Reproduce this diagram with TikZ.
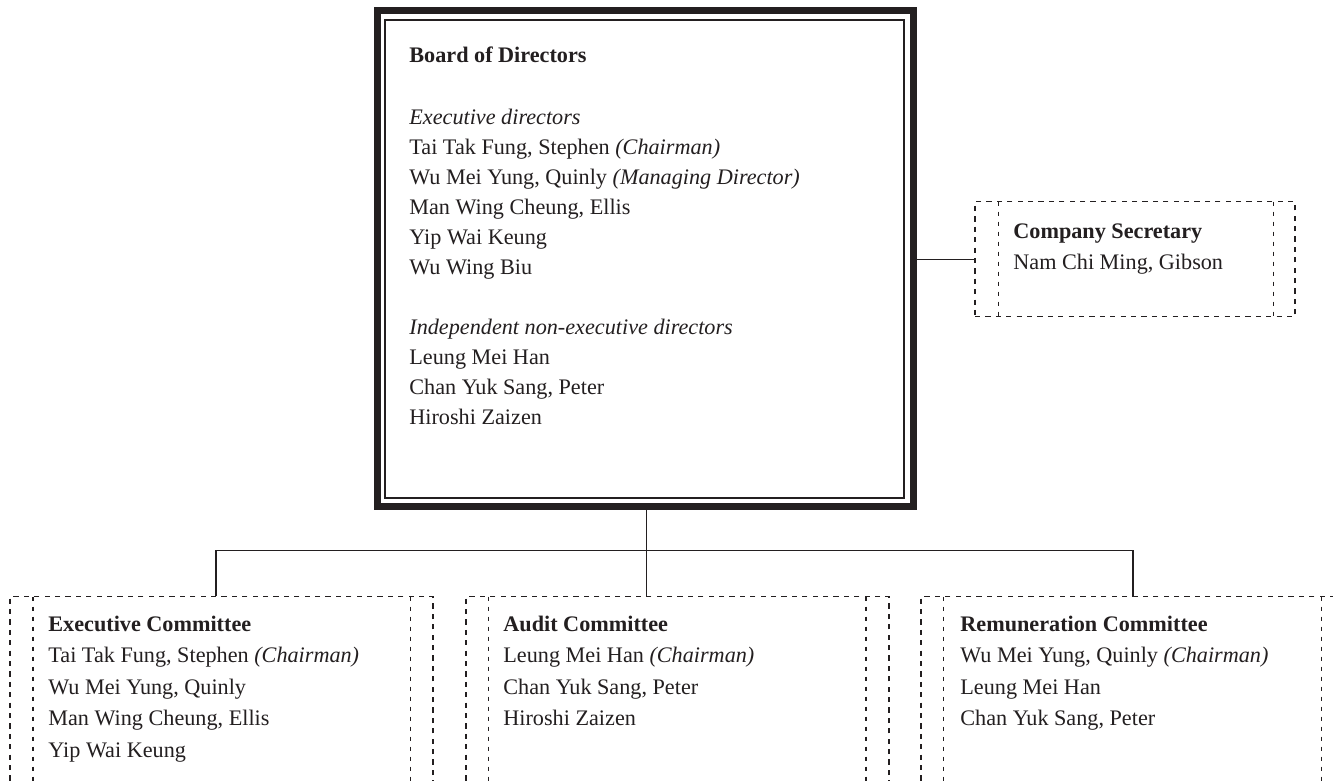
\documentclass[tikz,border=0pt]{standalone}
\usepackage{fontspec}
\setmainfont{Liberation Serif}
\definecolor{ink}{HTML}{231F20}
\tikzset{
  txt/.style={anchor=base west, inner sep=0pt, text=ink, font=\fontsize{11.1}{13}\selectfont},
  conn/.style={draw=ink, line width=0.55pt},
  dashbox/.style={draw=ink, line width=0.55pt, dash pattern=on 2.6pt off 2.6pt, inner sep=0pt, rectangle},
  dline/.style={draw=ink, line width=0.55pt, dash pattern=on 2.2pt off 2.8pt},
}
\begin{document}
\begin{tikzpicture}[x=0.5pt,y=-0.5pt]
\clip (0,0) rectangle (1333,781);
\fill[white] (0,0) rectangle (1333,781);
% Board of directors
\node[draw=ink, line width=3.3pt, inner sep=0pt, minimum width=268pt, minimum height=248pt] (board) at (645.5,258.5) {};
\node[draw=ink, line width=1pt, inner sep=0pt, minimum width=259.75pt, minimum height=238.9pt] (boardin) at (644.45,258.75) {};
\node[txt, font=\fontsize{11.1}{13}\selectfont\bfseries] (bt) at (409,63) {Board of Directors};
\foreach \t [count=\i from 0] in {{\textit{Executive directors}},
  {Tai Tak Fung, Stephen \textit{(Chairman)}},
  {Wu Mei Yung, Quinly \textit{(Managing Director)}},
  {Man Wing Cheung, Ellis},
  {Yip Wai Keung},
  {Wu Wing Biu},
  {},
  {\textit{Independent non-executive directors}},
  {Leung Mei Han},
  {Chan Yuk Sang, Peter},
  {Hiroshi Zaizen}}
  \node[txt] (bl\i) at (409,125+29.9*\i) {\t};
% Company secretary
\node[dashbox, minimum width=160pt, minimum height=57.5pt] (sec) at (1135,259.2) {};
\draw[dline] (998.3,201.7) -- (998.3,316.7);
\draw[dline] (1273.3,201.7) -- (1273.3,316.7);
\node[txt, font=\fontsize{11.1}{13}\selectfont\bfseries] (st) at (1013,238.3) {Company Secretary};
\node[txt] (s1) at (1013,269) {Nam Chi Ming, Gibson};
% Committees
\node[dashbox, minimum width=211.5pt, minimum height=111.65pt] (execc) at (221.5,708.35) {};
\node[dashbox, minimum width=211.5pt, minimum height=111.65pt] (audit) at (677.5,708.35) {};
\node[dashbox, minimum width=211.5pt, minimum height=111.65pt] (remc) at (1132.5,708.35) {};
\foreach \x in {33,410.7,488.3,866,943.3,1321.5}
  \draw[dline] (\x,596.7) -- (\x,820);
\node[txt, font=\fontsize{11.1}{13}\selectfont\bfseries] (et) at (48,631) {Executive Committee};
\foreach \t [count=\i] in {{Tai Tak Fung, Stephen \textit{(Chairman)}},
  {Wu Mei Yung, Quinly},{Man Wing Cheung, Ellis},{Yip Wai Keung}}
  \node[txt] (el\i) at (48,631+31.5*\i) {\t};
\node[txt, font=\fontsize{11.1}{13}\selectfont\bfseries] (at) at (503,631) {Audit Committee};
\foreach \t [count=\i] in {{Leung Mei Han \textit{(Chairman)}},
  {Chan Yuk Sang, Peter},{Hiroshi Zaizen}}
  \node[txt] (al\i) at (503,631+31.5*\i) {\t};
\node[txt, font=\fontsize{11.1}{13}\selectfont\bfseries] (rt) at (960,631) {Remuneration Committee};
\foreach \t [count=\i] in {{Wu Mei Yung, Quinly \textit{(Chairman)}},
  {Leung Mei Han},{Chan Yuk Sang, Peter}}
  \node[txt] (rl\i) at (960,631+31.5*\i) {\t};
% Connectors
\coordinate (dropL) at (216,550.7);
\coordinate (dropR) at (1133,550.7);
\draw[conn] (board.east |- sec.west) -- (sec.west);
\draw[conn] ([xshift=0.6pt]board.south) -- ([xshift=0.6pt]board.south |- audit.north);
\draw[conn] (execc.north -| dropL) -- (dropL) -- (dropR) -- (remc.north -| dropR);
\end{tikzpicture}
\end{document}
